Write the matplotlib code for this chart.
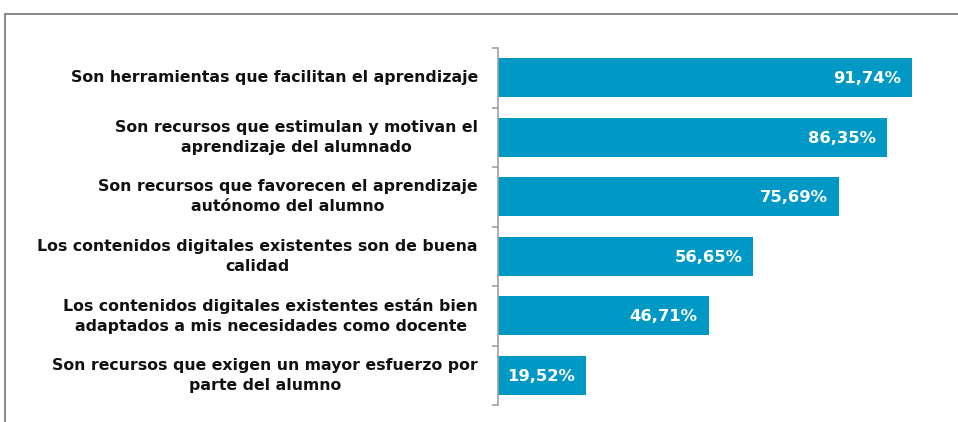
import matplotlib
matplotlib.use("Agg")
import matplotlib.pyplot as plt
from matplotlib.patches import Rectangle

# data, top to bottom
labels = [
    "Son herramientas que facilitan el aprendizaje",
    "Son recursos que estimulan y motivan el\naprendizaje del alumnado",
    "Son recursos que favorecen el aprendizaje\nautónomo del alumno",
    "Los contenidos digitales existentes son de buena\ncalidad",
    "Los contenidos digitales existentes están bien\nadaptados a mis necesidades como docente",
    "Son recursos que exigen un mayor esfuerzo por\nparte del alumno",
]
values = [91.74, 86.35, 75.69, 56.65, 46.71, 19.52]
value_labels = ["91,74%", "86,35%", "75,69%", "56,65%", "46,71%", "19,52%"]

bar_color = "#0099c6"
W, H = 958, 422

fig = plt.figure(figsize=(W / 100, H / 100), dpi=100)
plt.rcParams["font.family"] = ["DejaVu Sans"]

# outer frame (only top and left edges are visible in the picture)
fig.patches.append(Rectangle((5 / W, -0.1), 1.2, (H - 14) / H + 0.1,
                             transform=fig.transFigure, fill=False,
                             edgecolor="#8c8c8c", linewidth=1.5))

ax = fig.add_axes([498 / W, (H - 405) / H, (949 - 498) / W, (405 - 48) / H])

n = len(values)
pos = list(range(n))
ax.barh(pos, values, height=0.65, color=bar_color)
ax.set_xlim(0, 100)
ax.set_ylim(n - 0.5, -0.5)

# px -> points at dpi 100
pt = 0.72

for p, v, t in zip(pos, values, value_labels):
    ax.annotate(t, xy=(v, p), xytext=(-11 * pt, -1 * pt), textcoords="offset points",
                ha="right", va="center", color="white",
                fontsize=11.8, fontweight="bold")

for s in ["top", "right", "bottom"]:
    ax.spines[s].set_visible(False)
ax.spines["left"].set_color("#a0a0a0")
ax.spines["left"].set_linewidth(1.2)

ax.set_xticks([])
ax.set_yticks([i - 0.5 for i in range(n + 1)])
ax.set_yticklabels([])
ax.tick_params(axis="y", length=4, color="#a0a0a0", width=1.2)

for p, lab in zip(pos, labels):
    ax.annotate(lab, xy=(0, p), xycoords=("axes fraction", "data"),
                xytext=(-20 * pt, 0), textcoords="offset points",
                ha="right", va="center", fontsize=11.3, fontweight="bold",
                color="#111111", linespacing=1.45, multialignment="center")

fig.savefig("out.png", dpi=100)
